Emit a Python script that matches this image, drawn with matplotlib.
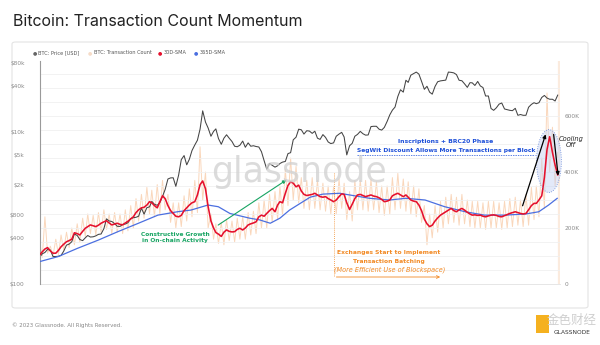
import matplotlib
matplotlib.use("Agg")
import matplotlib.pyplot as plt
import matplotlib.dates as mdates
from matplotlib.patches import Ellipse, FancyBboxPatch, Rectangle
import numpy as np
import pandas as pd

# ---------------- data ----------------
# semi-monthly grid (1st and 16th of each month), Jun 2015 .. Jul 2023
price_usd = [
    225, 250, 260, 285, 280, 230, 230, 232, 238, 270, 325, 335, 360, 455,
    435, 385, 372, 405, 435, 415, 418, 430, 450, 455, 535, 720, 675, 665,
    625, 575, 572, 610, 615, 640, 730, 745, 755, 780,
    995, 830, 1010, 1035, 1220, 1120, 1085, 1185, 1420, 1750, 2410, 2490,
    2500, 1930, 2720, 4330, 4900, 3700, 4380, 5700, 6750, 7800, 10900, 19000,
    13500, 11300, 8800, 10200, 11000, 8200, 6900, 8300, 9200, 8300, 7500, 6500,
    6400, 6700, 7600, 6300, 7200, 6500, 6600, 6450, 6350, 5500, 4200, 3250,
    3850, 3650, 3450, 3600, 3850, 4020, 4100, 5200, 5350, 7900, 8550, 10900,
    10700, 9400, 10400, 10300, 9600, 10250, 8300, 8000, 9250, 8500, 7400, 7050,
    7200, 8800, 9400, 9900, 8600, 5000, 6600, 7100, 8800, 9300, 10200, 9500,
    9100, 9150, 11800, 11900, 11900, 10900, 10600, 11500, 13800, 16800, 19400, 21300,
    29400, 36000, 33500, 48000, 45000, 56000, 58800, 61500, 57800, 46500, 36500, 40000,
    33500, 31500, 39800, 45900, 47100, 47700, 48200, 61500, 61000, 60000, 57000, 48000,
    47300, 43100, 38700, 44600, 44400, 41000, 46300, 40400, 38500, 29800, 29800, 20400,
    19300, 20800, 23300, 24100, 20100, 19700, 19300, 19100, 20500, 16600, 17000, 16600,
    16600, 21200, 23100, 24300, 23600, 24300, 28500, 30300, 28000, 27000, 27000, 25600,
    30600,
]

tx_count_k = [
    150, 95, 240, 110, 135, 100, 160, 105, 175, 120, 185, 130, 200, 140,
    215, 150, 235, 170, 250, 180, 245, 175, 255, 185, 265, 195, 250, 180,
    255, 185, 250, 180, 265, 190, 280, 200, 305, 225,
    320, 235, 345, 250, 335, 240, 355, 250, 370, 265, 320, 220,
    290, 200, 290, 205, 315, 225, 340, 240, 370, 255, 490, 300,
    400, 200, 250, 160, 215, 145, 220, 140, 230, 155, 225, 150,
    235, 160, 240, 160, 255, 175, 260, 180, 290, 200, 300, 200,
    320, 220, 330, 230, 350, 245, 410, 280, 450, 300, 420, 290,
    380, 270, 370, 265, 380, 270, 370, 265, 360, 260, 350, 250,
    350, 250, 375, 270, 360, 230, 330, 225, 370, 265, 370, 265,
    370, 260, 375, 265, 365, 255, 350, 245, 350, 250, 380, 265,
    395, 270, 375, 260, 365, 250, 350, 240, 340, 220, 280, 140,
    250, 165, 280, 185, 295, 200, 310, 215, 320, 220, 310, 210,
    320, 215, 300, 205, 295, 200, 295, 200, 290, 195, 295, 200,
    295, 200, 290, 195, 295, 200, 305, 205, 310, 210, 300, 205,
    320, 210, 345, 230, 350, 240, 450, 270, 682, 400, 560, 350,
    470,
]

sma30_k = [
    104, 115, 125, 130, 118, 110, 110, 120, 133, 142, 151, 155, 160, 183,
    180, 175, 188, 199, 205, 211, 208, 205, 210, 217, 222, 226, 218, 211,
    214, 217, 213, 211, 218, 224, 232, 240, 255, 265,
    272, 274, 282, 294, 290, 280, 272, 294, 315, 305, 280, 262,
    252, 242, 240, 245, 262, 272, 282, 290, 294, 318, 355, 368,
    340, 276, 225, 200, 184, 178, 170, 185, 193, 188, 186, 187,
    195, 199, 193, 200, 211, 215, 218, 222, 240, 246, 242, 252,
    262, 270, 258, 282, 294, 290, 324, 352, 365, 360, 347, 353,
    332, 320, 316, 318, 320, 324, 318, 312, 310, 312, 305, 300,
    294, 300, 312, 322, 320, 290, 266, 285, 305, 318, 320, 316,
    312, 315, 318, 314, 312, 308, 302, 294, 296, 300, 315, 320,
    324, 318, 312, 318, 310, 300, 296, 294, 282, 262, 232, 215,
    205, 210, 225, 236, 246, 252, 258, 264, 270, 262, 258, 265,
    270, 264, 256, 250, 246, 247, 245, 246, 242, 240, 243, 246,
    247, 245, 241, 240, 244, 248, 252, 255, 258, 255, 252, 250,
    252, 265, 280, 288, 288, 300, 315, 380, 480, 526, 470, 425,
    390,
]

sma365_dates = [
    "2015-06-01", "2015-09-15", "2016-01-01", "2016-05-01", "2016-08-20",
    "2016-12-15", "2017-04-05", "2017-07-25", "2017-10-10", "2018-01-15",
    "2018-03-15", "2018-05-20", "2018-09-10", "2018-11-05", "2019-01-05",
    "2019-03-01", "2019-04-25", "2019-06-25", "2019-08-20", "2019-11-01",
    "2020-02-05", "2020-04-01", "2020-07-25", "2020-11-15", "2021-02-15",
    "2021-06-05", "2021-09-25", "2022-01-20", "2022-05-10", "2022-09-01",
    "2022-12-30", "2023-03-15", "2023-05-10", "2023-06-28",
]
sma365_k = [
    80, 98, 127, 157, 187, 217, 246, 258, 264, 282,
    276, 252, 235, 229, 217, 235, 264, 288, 310, 321,
    324, 318, 306, 300, 306, 300, 276, 258, 246, 246,
    250, 258, 282, 306,
]

price_ticks = [100, 400, 800, 2000, 5000, 10000, 40000, 80000]
price_tick_labels = ["$100", "$400", "$800", "$2k", "$5k", "$10k", "$40k", "$80k"]
tx_ticks_k = [0, 200, 400, 600]
tx_tick_labels = ["0", "200K", "400K", "600K"]
x_tick_dates = ["2015-07-01", "2016-01-01", "2016-07-01", "2017-01-01", "2017-07-01",
                "2018-01-01", "2018-07-01", "2019-01-01", "2019-07-01", "2020-01-01",
                "2020-07-01", "2021-01-01", "2021-07-01", "2022-01-01", "2022-07-01",
                "2023-01-01", "2023-07-01"]
x_tick_labels = ["Jul '15", "Jan '16", "Jul '16", "Jan '17", "Jul '17", "Jan '18",
                 "Jul '18", "Jan '19", "Jul '19", "Jan '20", "Jul '20", "Jan '21",
                 "Jul '21", "Jan '22", "Jul '22", "Jan '23", "Jul '23"]

# ---------------- dates ----------------
months = pd.date_range("2015-06-01", "2023-06-01", freq="MS")
grid = []
for m in months:
    grid.append(m)
    grid.append(m + pd.Timedelta(days=15))
grid.append(pd.Timestamp("2023-07-01"))
grid = pd.DatetimeIndex(grid)
d365 = pd.to_datetime(sma365_dates)

# ---------------- figure ----------------
W, H = 600, 345
fig = plt.figure(figsize=(6.0, 3.45), dpi=100)
fig.patch.set_facecolor("white")

def fx(x):
    return x / W

def fy(y):
    return 1 - y / H

# card
card = FancyBboxPatch((fx(12), fy(308)), fx(576), (308 - 42) / H,
                      boxstyle="round,pad=0,rounding_size=0.006",
                      transform=fig.transFigure, facecolor="none",
                      edgecolor="#e4e4e4", linewidth=0.8, zorder=-5)
fig.patches.append(card)

left, right, top, bottom = 40, 560, 61.4, 284
ax = fig.add_axes([fx(left), fy(bottom), (right - left) / W, (bottom - top) / H])
ax_p = ax.twinx()
ax_s = ax.twinx()

xmin = pd.Timestamp("2015-06-03")
xmax = pd.Timestamp("2023-07-14")
TXMAX = 795

for a in (ax, ax_p, ax_s):
    a.set_xlim(xmin, xmax)
    a.patch.set_visible(False)
    for s in a.spines.values():
        s.set_visible(False)

ax.set_ylim(0, TXMAX)
ax_s.set_ylim(0, TXMAX)
ax_p.set_yscale("log")
ax_p.set_ylim(100, 85000)

# grid
ax.set_yticks(np.arange(0, TXMAX, 50), minor=True)
ax.grid(True, which="minor", axis="y", color="#f0f0f0", linewidth=0.6)
ax.set_yticks(tx_ticks_k)
ax.set_yticklabels(tx_tick_labels)
ax.grid(True, which="major", axis="y", color="#f0f0f0", linewidth=0.6)
ax.yaxis.tick_right()
ax.tick_params(axis="y", which="both", length=0, pad=3, labelsize=4.2, labelcolor="#8a8a8a")

ax.set_xticks(pd.to_datetime(x_tick_dates))
ax.set_xticklabels(x_tick_labels)
ax.tick_params(axis="x", length=0, pad=5, labelsize=4.2, labelcolor="#8a8a8a")
ax.spines["bottom"].set_visible(True)
ax.spines["bottom"].set_color("#e2e2e2")
ax.spines["bottom"].set_linewidth(0.6)

ax_p.yaxis.tick_left()
ax_p.set_yticks(price_ticks)
ax_p.set_yticklabels(price_tick_labels)
ax_p.yaxis.set_minor_locator(matplotlib.ticker.NullLocator())
ax_p.tick_params(axis="y", length=0, pad=11, labelsize=4.2, labelcolor="#8a8a8a")
ax_p.spines["left"].set_visible(True)
ax_p.spines["left"].set_color("#9a9a9a")
ax_p.spines["left"].set_linewidth(0.8)
ax_p.set_xticks([])
ax_s.set_yticks([])
ax_s.set_xticks([])

# series
ax.plot(grid, tx_count_k, color="#f9d0b0", linewidth=0.7, alpha=0.85, zorder=1)
ax.axvline(pd.Timestamp("2023-07-08"), color="#f9d8bf", linewidth=1.6, alpha=0.5, zorder=1)
ax_p.plot(grid, price_usd, color="#444444", linewidth=0.75, zorder=2)
ax_s.plot(d365, sma365_k, color="#4b6fe0", linewidth=0.9, zorder=3)
ax_s.plot(grid, sma30_k, color="#e5102d", linewidth=1.15, zorder=4)

# ellipse
ecx = mdates.date2num(pd.Timestamp("2023-05-12"))
ell = Ellipse((ecx, 439), width=142, height=225, facecolor="#c3d0f2", alpha=0.45,
              edgecolor="none", zorder=2, clip_on=False)
ax_s.add_patch(ell)
ell2 = Ellipse((ecx, 439), width=142, height=225, facecolor="none",
               edgecolor="#6a8ad8", linestyle=(0, (1, 1.8)), linewidth=0.6, zorder=5,
               clip_on=False)
ax_s.add_patch(ell2)

# black arrows
ax_s.annotate("", xy=(pd.Timestamp("2023-04-28"), 544), xytext=(pd.Timestamp("2022-12-08"), 270),
              arrowprops=dict(arrowstyle="-|>", color="black", lw=0.9, mutation_scale=5),
              zorder=6, annotation_clip=False)
ax_s.annotate("", xy=(pd.Timestamp("2023-07-05"), 377), xytext=(pd.Timestamp("2023-06-06"), 544),
              arrowprops=dict(arrowstyle="-|>", color="black", lw=0.9, mutation_scale=5),
              zorder=6, annotation_clip=False)
fig.text(fx(571), fy(142), "Cooling\nOff", ha="center", va="center", fontsize=4.8,
         style="italic", color="#222222", linespacing=1.1)

# green annotation
green = "#17a462"
ax_s.annotate("", xy=(pd.Timestamp("2019-04-20"), 377), xytext=(pd.Timestamp("2018-03-01"), 205),
              arrowprops=dict(arrowstyle="-|>", color=green, lw=0.8, mutation_scale=5), zorder=6)
fig.text(fx(175), fy(237.5), "Constructive Growth\nin On-chain Activity", ha="center",
         va="center", fontsize=4.2, fontweight="bold", color=green, linespacing=1.45)

# orange annotation
orange = "#f28a25"
t_jan20 = pd.Timestamp("2020-01-01")
ax_s.plot([t_jan20, t_jan20], [396, 25], color=orange, linewidth=0.6, linestyle=(0, (1, 1.5)), zorder=6)
ax_s.annotate("", xy=(pd.Timestamp("2021-09-15"), 25), xytext=(t_jan20, 25),
              arrowprops=dict(arrowstyle="->", color=orange, lw=0.6, mutation_scale=5), zorder=6)
fig.text(fx(389), fy(252.7), "Exchanges Start to Implement", ha="center", va="center",
         fontsize=4.3, fontweight="bold", color=orange)
fig.text(fx(389), fy(261), "Transaction Batching", ha="center", va="center",
         fontsize=4.3, fontweight="bold", color=orange)
fig.text(fx(390), fy(269.3), "(More Efficient Use of Blockspace)", ha="center", va="center",
         fontsize=4.7, style="italic", color=orange)

# blue annotation
blue = "#1d4fd8"
fig.text(fx(446), fy(141.7), "Inscriptions + BRC20 Phase", ha="center", va="center",
         fontsize=4.4, fontweight="bold", color=blue)
fig.text(fx(446), fy(150.3), "SegWit Discount Allows More Transactions per Block", ha="center",
         va="center", fontsize=4.3, fontweight="bold", color=blue)
ax_s.plot([pd.Timestamp("2020-05-15"), pd.Timestamp("2023-02-20")], [461, 461], color=blue,
          linewidth=0.5, linestyle=(0, (2, 1.5)), zorder=6)

# watermark
fig.text(fx(299), fy(172), "glassnode", ha="center", va="center", fontsize=25,
         color="#d0d0d0", alpha=0.75, zorder=0.5)

# title, legend, footer
fig.text(fx(13), fy(22), "Bitcoin: Transaction Count Momentum", ha="left", va="center",
         fontsize=11.5, color="#222222", family="Inter")
legend_items = [(35, "#666666", "BTC: Price [USD]"), (90, "#f6dcc8", "BTC: Transaction Count"),
                (160, "#e5102d", "30D-SMA"), (196, "#4b6fe0", "365D-SMA")]
for lx, col, lab in legend_items:
    fig.text(fx(lx), fy(52.5), "\u25cf", ha="center", va="center", fontsize=3.6, color=col)
    fig.text(fx(lx + 3.5), fy(52.5), lab, ha="left", va="center", fontsize=3.6, color="#555555")

fig.text(fx(12), fy(325), "\u00a9 2023 Glassnode. All Rights Reserved.", ha="left", va="center",
         fontsize=4.0, color="#888888")

# logo (bottom right)
fig.patches.append(Rectangle((fx(536), fy(333)), 13 / W, 18 / H, transform=fig.transFigure,
                             facecolor="#f5b120", edgecolor="none", zorder=3))
fig.text(fx(572), fy(320), "金色财经", ha="center", va="center", fontsize=9,
         color="#cfcfcf", family=["Noto Sans CJK SC", "DejaVu Sans"], zorder=3)
fig.text(fx(572), fy(332), "GLASSNODE", ha="center", va="center", fontsize=4.2,
         color="#333333", zorder=4)

fig.savefig("out.png", dpi=100, facecolor="white")
